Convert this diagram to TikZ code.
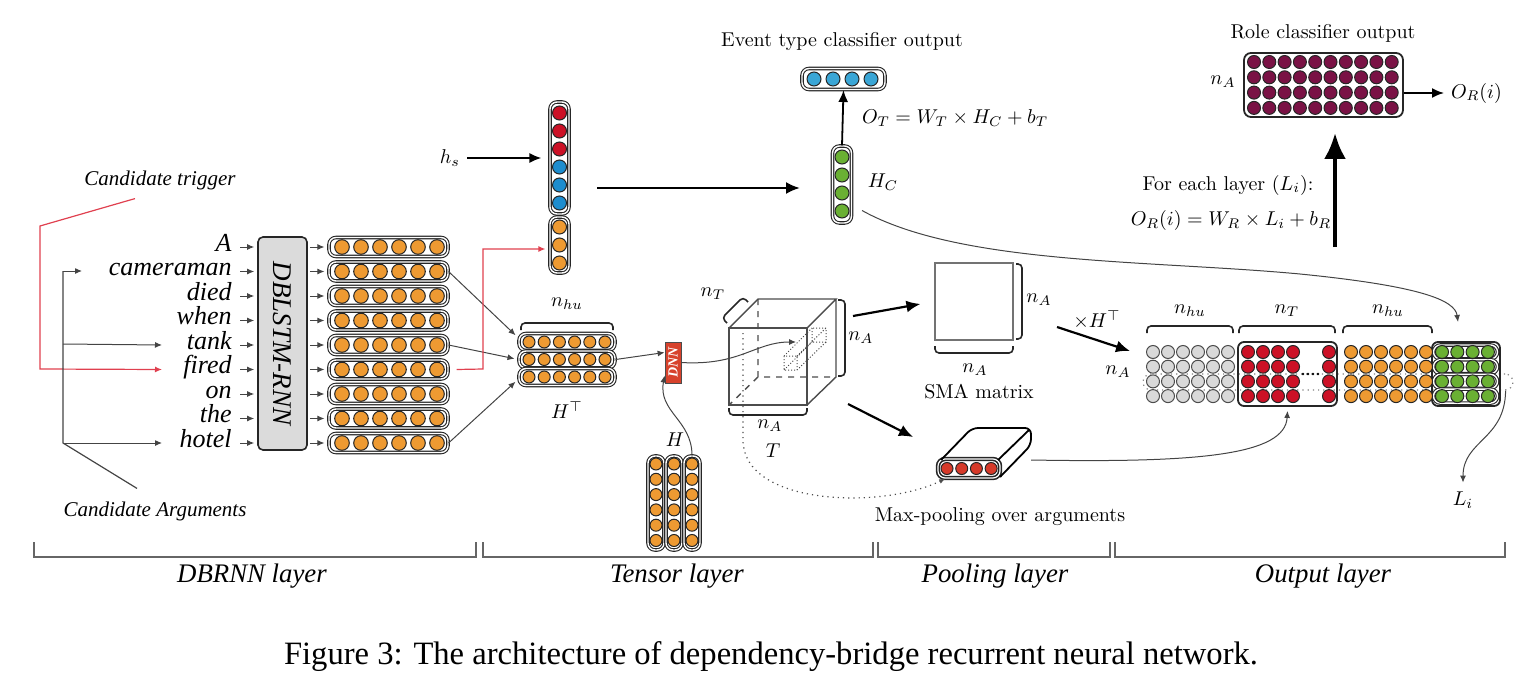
\documentclass[tikz,border=0pt]{standalone}
\usepackage{fontspec}
\newfontfamily\tms{Liberation Serif}
\usetikzlibrary{arrows.meta,decorations.pathreplacing,calc}
\definecolor{orng}{HTML}{EE9A32}
\definecolor{rd}{HTML}{CC1126}
\definecolor{bl}{HTML}{1D8DCF}
\definecolor{lbl}{HTML}{3AA6D6}
\definecolor{grn}{HTML}{6AB033}
\definecolor{gry}{HTML}{D9D9D9}
\definecolor{prp}{HTML}{7A1245}
\definecolor{dnnred}{HTML}{D7422C}
\definecolor{poolred}{HTML}{D63A2A}
\definecolor{trig}{HTML}{E0404F}
\definecolor{ln}{HTML}{444444}
\begin{document}
\begin{tikzpicture}[x=0.5pt,y=-0.5pt,
  neu/.style={circle,draw=black!85,line width=0.5pt,inner sep=0pt,minimum size=7pt},
  vbox/.style={draw=black!85,rounded corners=3.5pt,double=white,double distance=0.7pt,line width=0.55pt,inner sep=0pt},
  sarr/.style={-{Latex[length=3.5pt,width=3pt]},draw=ln,line width=0.5pt},
  marr/.style={-{Latex[length=6pt,width=5pt]},line width=0.9pt},
  barr/.style={-{Latex[length=7pt,width=6pt]},line width=1.1pt},
  sqb/.style={rounded corners=2pt,line width=0.8pt,draw=black!85},
  mth/.style={font=\fontsize{10}{12}\selectfont},
  lab/.style={font=\tms\itshape\fontsize{10.5}{12}\selectfont},
  word/.style={font=\tms\itshape\fontsize{13}{15}\selectfont,inner sep=0pt},
  cube/.style={draw=black!70,line width=0.7pt},
  brk/.style={draw=black!60,line width=0.7pt},
  lay/.style={font=\tms\itshape\fontsize{13.4}{15}\selectfont},
]
\useasboundingbox (0,0) rectangle (1536,690);

% ---------------- DBRNN layer ----------------
\node[draw=black!85,fill=gray!28,rounded corners=2.5pt,line width=0.8pt,minimum width=24.5pt,minimum height=106.5pt,inner sep=0pt] (lstm) at (282.5,343.5) {};
\node[rotate=-90,font=\tms\itshape\fontsize{13.5}{15}\selectfont] (lstmt) at (lstm.center) {DBLSTM-RNN};

\foreach \w [count=\i from 0] in {A,cameraman,died,when,tank,fired,on,the,hotel}{
  \pgfmathsetmacro\yy{247+24.5*\i}
  \node[word,anchor=mid east] (w\i) at (232,\yy) {\w};
  \node[vbox,minimum width=59.5pt,minimum height=9.5pt] (v\i) at (388.5,\yy) {};
  \foreach \k in {0,...,5}{\node[neu,minimum size=7.3pt,fill=orng] (v\i-\k) at ({342+19*\k},\yy) {};}
  \draw[sarr,shorten >=1.5pt] ([xshift=4pt]w\i.mid east) -- (lstm.west |- w\i.mid east);
  \draw[sarr,shorten >=2pt,shorten <=1pt] (lstm.east |- v\i.center) -- (v\i.west);
}

\coordinate (ax) at (162,0);
\node[lab] (ct) at (160,180) {Candidate trigger};
\draw[trig,line width=0.6pt,-{Latex[length=3.5pt,width=3pt]}] ([xshift=-12.5pt,yshift=-1pt]ct.south) -- (40,226) -- (40,369) -- (ax |- w5.mid west);

\node[lab] (ca) at (155,511) {Candidate Arguments};
\coordinate (cat) at (63,271);
\coordinate (cam) at (63,344);
\coordinate (cab) at (63,443);
\draw[ln,line width=0.6pt] ([xshift=-9pt,yshift=3pt]ca.north) -- (cab) -- (cat);
\draw[sarr] (cat) -- (82,271);
\draw[sarr] (cam) -- (ax |- w4.mid west);
\draw[sarr] (cab) -- (ax |- w8.mid west);

% ---------------- concat vector ----------------
\node[vbox,minimum width=9.5pt,minimum height=56pt] (vu) at (559.5,158) {};
\foreach \j/\c in {0/rd,1/rd,2/rd,3/bl,4/bl,5/bl}{\node[neu,fill=\c] (vu-\j) at (559.5,{113+18*\j}) {};}
\node[vbox,minimum width=9.5pt,minimum height=28pt] (vl) at (559.5,245) {};
\foreach \j in {0,1,2}{\node[neu,fill=orng] (vl-\j) at (559.5,{227+18*\j}) {};}
\node[mth] (hs) at (450,158) {$h_s$};
\draw[marr,shorten >=4pt] (hs.east) -- (vu.west);
\coordinate (ba) at (597,188);
\coordinate (bb) at (800,188);
\draw[barr] (ba) -- (bb);

% ---------------- H^T ----------------
\foreach \r in {0,1,2}{
  \pgfmathsetmacro\yy{342+17.5*\r}
  \node[vbox,minimum width=48pt,minimum height=8.5pt] (ht\r) at (567,\yy) {};
  \foreach \k in {0,...,5}{\node[neu,minimum size=6pt,fill=orng] (ht\r-\k) at ({529+15.2*\k},\yy) {};}
}
\draw[sqb] (521,330) -- (521,323) -- (613,323) -- (613,330);
\node[mth] (nhu1) at (567,304) {$n_{hu}$};
\node[mth] (htl) at (567,410) {$H^\top$};
\draw[sarr,shorten >=2pt] (v1.east) -- ([yshift=2pt]ht0.west);
\draw[sarr,shorten >=2pt] (v4.east) -- (ht1.west);
\draw[sarr,shorten >=2pt] (v8.east) -- ([yshift=-1pt]ht2.west);
\draw[trig,line width=0.6pt,-{Latex[length=3.5pt,width=3pt]},shorten >=2pt] ([xshift=4pt]v5.east) -- (483,369) -- (483,249) -- ([yshift=-2pt]vl.west);

\node[vbox,minimum width=9.5pt,minimum height=38.5pt] (hc) at (842,184.5) {};
\foreach \j in {0,...,3}{\node[neu,fill=grn] (hc-\j) at (842,{157+18*\j}) {};}
\node[mth] (hcl) at (883,182) {$H_C$};
\node[vbox,minimum width=41.5pt,minimum height=10.5pt] (ev) at (843.5,79) {};
\foreach \j in {0,...,3}{\node[neu,fill=lbl] (ev-\j) at ({814+19*\j},79) {};}
\node[mth] (evl) at (842,42) {Event type classifier output};
\draw[marr] (hc.north) -- (ev.south);
\node[mth,anchor=west] (ot) at (855,118) {$O_T = W_T\times H_C + b_T$};

% ---------------- Tensor layer ----------------
\node[draw=black!70,fill=dnnred,minimum width=8pt,minimum height=20.5pt,inner sep=0pt] (dnn) at (673,362.5) {};
\node[rotate=90,text=white,font=\tms\itshape\bfseries\fontsize{7}{8}\selectfont] (dnnt) at (dnn.center) {DNN};
\draw[sarr] (ht1.east) -- ([yshift=5pt]dnn.west);

\foreach \c in {0,1,2}{
  \node[vbox,minimum width=8pt,minimum height=47pt] (hcol\c) at ({656+18*\c},503) {};
  \foreach \j in {0,...,5}{\node[neu,minimum size=6pt,fill=orng] (hcol\c-\j) at ({656+18*\c},{464+15.3*\j}) {};}
}
\node[mth] (hl) at (675,440) {$H$};
\draw[sarr] (hcol2.north) .. controls (692,420) and (658,412) .. ([yshift=-6.5pt]dnn.west);

\coordinate (f1) at (729,328); \coordinate (f2) at (807,328);
\coordinate (f3) at (807,405); \coordinate (f4) at (729,405);
\coordinate (b1) at (758,299); \coordinate (b2) at (836,299);
\coordinate (b3) at (836,377); \coordinate (b4) at (758,377);
\draw[cube,dashed] (b1) -- (b4) -- (b3) (b4) -- (f4);
\draw[cube] (f1) -- (f2) -- (f3) -- (f4) -- cycle;
\draw[cube] (f1) -- (b1) -- (b2) -- (f2) (b2) -- (b3) -- (f3);
\draw[black!70,densely dotted,line width=0.5pt] (784,356) rectangle (797,370) (812,328) rectangle (826,342)
  (784,356) -- (812,328) (797,356) -- (826,328) (797,370) -- (826,342) (784,370) -- (812,342);
\coordinate (tip) at (796,342);
\draw[sarr] (dnn.east) .. controls (740,366) and (755,342) .. (tip);
\draw[sqb] (727,323) -- (722,318) -- (743,297) -- (748,302);
\node[mth] (nt1) at (713,294) {$n_T$};
\draw[sqb] (838,300) -- (845,300) -- (845,376) -- (838,376);
\node[mth] (na1) at (861,338) {$n_A$};
\draw[sqb] (729,408) -- (729,415) -- (807,415) -- (807,408);
\node[mth] (na2) at (770,426) {$n_A$};
\node[mth] (tl) at (773,451) {$T$};

% ---------------- Pooling layer ----------------
\node[draw=black!55,line width=0.8pt,minimum width=39pt,minimum height=38.5pt,inner sep=0pt] (sma) at (974,301.5) {};
\draw[sqb] (1016,264) -- (1022,264) -- (1022,339) -- (1016,339);
\node[mth] (na3) at (1039,300) {$n_A$};
\draw[sqb] (935,346) -- (935,353) -- (1013,353) -- (1013,346);
\node[mth] (na4) at (975,370) {$n_A$};
\node[mth] (smal) at (979,392) {SMA matrix};
\coordinate (cs1) at (853,316);
\coordinate (cs2) at (848,404);
\draw[barr,shorten >=7pt] (cs1) -- (sma.west);
\node[vbox,line width=0.8pt,double distance=0.6pt,minimum width=31pt,minimum height=9.5pt] (poolf) at (969,468.5) {};
\draw[line width=0.9pt,rounded corners=3pt] (941,460) -- (972,428) -- (1031,428) -- (1031,445) -- (1000,477);
\draw[line width=0.9pt] (998,460) -- (1029,430);
\foreach \k in {0,...,3}{\node[neu,minimum size=6pt,fill=poolred] (pl-\k) at ({947+14.7*\k},468.5) {};}
\draw[barr] (cs2) -- (913,437);
\node[mth] (mpl) at (1000,517) {Max-pooling over arguments};
\draw[black!70,dotted,line width=0.6pt,-{Latex[length=3pt,width=2.5pt]}] (743,333) -- (743,440) .. controls (743,505) and (880,510) .. ([xshift=4pt]poolf.south west);

% ---------------- Output layer ----------------
\node[draw=black!50,dotted,rounded corners=4pt,line width=0.6pt,minimum width=185pt,minimum height=8pt,inner sep=0pt] (lrow) at (1328,382) {};
\node[draw=black!85,rounded corners=3pt,line width=0.9pt,minimum width=49.5pt,minimum height=32pt,inner sep=0pt] (redbox) at (1287.5,374) {};
\node[draw=black!85,rounded corners=3pt,line width=0.9pt,minimum width=34pt,minimum height=32pt,inner sep=0pt] (greenbox) at (1466,374) {};
\foreach \r in {0,...,3}{
  \pgfmathsetmacro\yy{352+14.7*\r}
  \node[vbox,minimum width=32pt,minimum height=7pt] (gr\r) at (1465.5,\yy) {};
  \foreach \k in {0,...,5}{\node[neu,minimum size=6.5pt,fill=gry,draw=black!70] (gy\r-\k) at ({1153+15*\k},\yy) {};}
  \foreach \x [count=\k] in {1248,1263,1278,1293,1329}{\node[neu,minimum size=6.5pt,fill=rd] (rr\r-\k) at (\x,\yy) {};}
  \foreach \k in {0,...,5}{\node[neu,minimum size=6.5pt,fill=orng] (oo\r-\k) at ({1351+15*\k},\yy) {};}
  \foreach \k in {0,...,3}{\node[neu,minimum size=6.5pt,fill=grn] (gg\r-\k) at ({1442+15.3*\k},\yy) {};}
}
\foreach \d in {0,...,3}{\fill (1303+5*\d,374) circle (0.7pt);}
\draw[sqb] (1147,333) -- (1147,326) -- (1233,326) -- (1233,333);
\node[mth] (nhu2) at (1190,311) {$n_{hu}$};
\draw[sqb] (1239,333) -- (1239,326) -- (1335,326) -- (1335,333);
\node[mth] (nt2) at (1287,311) {$n_T$};
\draw[sqb] (1343,333) -- (1343,326) -- (1432,326) -- (1432,333);
\node[mth] (nhu3) at (1388,311) {$n_{hu}$};
\node[mth] (xht) at (1097,320) {$\times H^\top$};
\coordinate (xa) at (1057,327);
\coordinate (xb) at (1130,351);
\draw[barr] (xa) -- (xb);
\node[mth] (na5) at (1118,372) {$n_A$};
\node[mth] (li) at (1463,500) {$L_i$};
\draw[sarr,shorten >=1pt] ([xshift=-4pt]lrow.south east) .. controls (1505,440) and (1463,440) .. (li.north);
\coordinate (gtip) at (1458,322);
\draw[sarr] ([shift={(20,26)}]hc.center) .. controls (960,265) and (1150,260) .. (1300,274) .. controls (1420,286) and (1455,300) .. (gtip);
\coordinate (pr) at (1031,460);
\draw[sarr] (pr) .. controls (1200,463) and (1285,455) .. ([yshift=-2pt]redbox.south);

% role classifier
\node[mth] (rcl) at (1323,33) {Role classifier output};
\node[draw=black!85,rounded corners=3.5pt,line width=0.9pt,minimum width=79.5pt,minimum height=32pt,inner sep=0pt] (role) at (1323.5,85) {};
\foreach \r in {0,...,3}{\foreach \k in {0,...,9}{\node[neu,minimum size=6.5pt,fill=prp] (ro\r-\k) at ({1254+15.3*\k},{62+15.3*\r}) {};}}
\node[mth] (rna) at (1223,82) {$n_A$};
\node[mth,anchor=west] (orl) at (1444,93) {$O_R(i)$};
\draw[marr] ([yshift=-4pt]role.east) -- (orl.west);
\coordinate (bu) at (1335,247);
\draw[line width=2.2pt,-{Latex[length=13pt,width=11pt]},shorten >=7.5pt] (bu) -- (role.south -| bu);
\node[mth] (fel) at (1228,185) {For each layer ($L_i$):};
\node[mth] (orf) at (1231,220) {$O_R(i) = W_R\times L_i + b_R$};

% ---------------- layer brackets ----------------
\draw[brk] (34,542) -- (34,557) -- (476,557) -- (476,542);
\draw[brk] (483,542) -- (483,557) -- (873,557) -- (873,542);
\draw[brk] (878,542) -- (878,557) -- (1110,557) -- (1110,542);
\draw[brk] (1115,542) -- (1115,557) -- (1505,557) -- (1505,542);
\node[lay] (l1) at (252,576) {DBRNN layer};
\node[lay] (l2) at (677,576) {Tensor layer};
\node[lay] (l3) at (995,576) {Pooling layer};
\node[lay] (l4) at (1323,576) {Output layer};
\node[font=\tms\fontsize{16.3}{19}\selectfont] (cap) at (771,657) {Figure 3: The architecture of dependency-bridge recurrent neural network.};
\end{tikzpicture}
\end{document}
